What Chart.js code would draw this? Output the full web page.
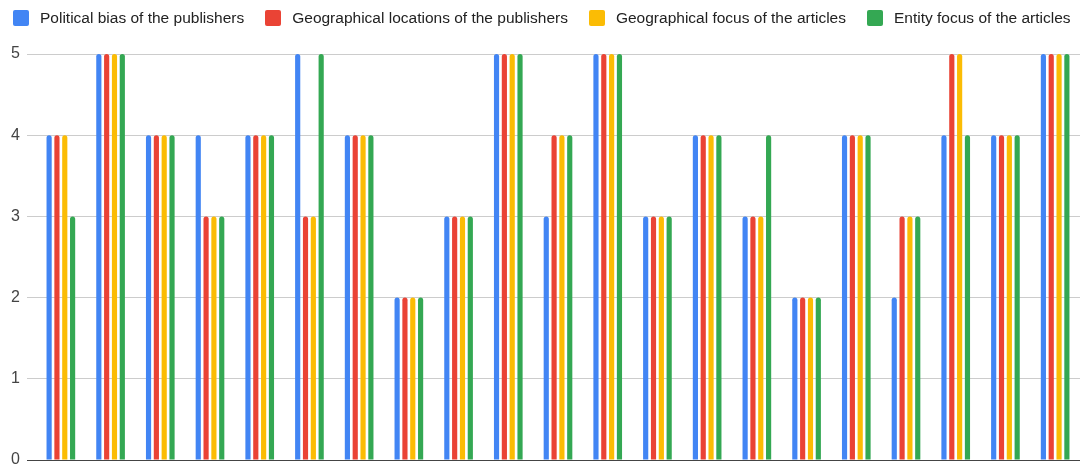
<!DOCTYPE html>
<html>
<head>
<meta charset="utf-8">
<script src="https://cdn.jsdelivr.net/npm/chart.js@4.4.7/dist/chart.umd.min.js"></script>
<style>
  body { margin: 0; background: #fff; font-family: "Liberation Sans", Arial, sans-serif; }
  #wrap { position: relative; width: 1084px; height: 467px; }
  #legend { position: absolute; left: 13px; top: 9px; display: flex; font-size: 15.5px; color: #222; white-space: nowrap; }
  #legend .item { display: flex; align-items: center; margin-right: 21px; height: 18px; }
  #legend .box { width: 16px; height: 16px; border-radius: 2px; margin-right: 11px; }
</style>
</head>
<body>
<div id="wrap">
  <div id="legend"></div>
  <canvas id="chart"></canvas>
</div>
<script>
const categories = ['1','2','3','4','5','6','7','8','9','10','11','12','13','14','15','16','17','18','19','20','21'];
const seriesNames = [
  'Political bias of the publishers',
  'Geographical locations of the publishers',
  'Geographical focus of the articles',
  'Entity focus of the articles'
];
const politicalBias = [4,5,4,4,4,5,4,2,3,5,3,5,3,4,3,2,4,2,4,4,5];
const geoLocations  = [4,5,4,3,4,3,4,2,3,5,4,5,3,4,3,2,4,3,5,4,5];
const geoFocus      = [4,5,4,3,4,3,4,2,3,5,4,5,3,4,3,2,4,3,5,4,5];
const entityFocus   = [3,5,4,3,4,5,4,2,3,5,4,5,3,4,4,2,4,3,4,4,5];
const colors = ['#4285F4', '#EA4335', '#FBBC04', '#34A853'];
const yTicks = [0, 1, 2, 3, 4, 5];

const values = [politicalBias, geoLocations, geoFocus, entityFocus];

const legend = document.getElementById('legend');
seriesNames.forEach((name, i) => {
  const item = document.createElement('div');
  item.className = 'item';
  item.innerHTML = '<span class="box" style="background:' + colors[i] + '"></span><span>' + name + '</span>';
  legend.appendChild(item);
});

new Chart(document.getElementById('chart'), {
  type: 'bar',
  data: {
    labels: categories,
    datasets: seriesNames.map((name, i) => ({
      label: name,
      data: values[i],
      backgroundColor: colors[i],
      borderRadius: 3,
      borderSkipped: 'bottom',
      categoryPercentage: 0.63,
      barPercentage: 0.66
    }))
  },
  options: {
    responsive: true,
    maintainAspectRatio: false,
    animation: false,
    layout: { padding: { top: 54, right: 4, bottom: 7, left: 0 } },
    plugins: { legend: { display: false }, tooltip: { enabled: false } },
    scales: {
      x: { display: false },
      y: {
        min: 0,
        max: 5,
        afterFit: s => { s.width = 36; s.paddingTop = 0; s.paddingBottom = 0; },
        afterBuildTicks: s => { s.ticks = yTicks.map(v => ({ value: v })); },
        border: { display: false },
        grid: {
          color: ctx => ctx.tick && ctx.tick.value === 0 ? '#444' : '#cccccc',
          lineWidth: 1,
          tickLength: 9
        },
        ticks: {
          padding: 7,
          color: '#444',
          font: { family: '"Liberation Sans", Arial, sans-serif', size: 16 }
        }
      }
    }
  }
});
</script>
</body>
</html>
